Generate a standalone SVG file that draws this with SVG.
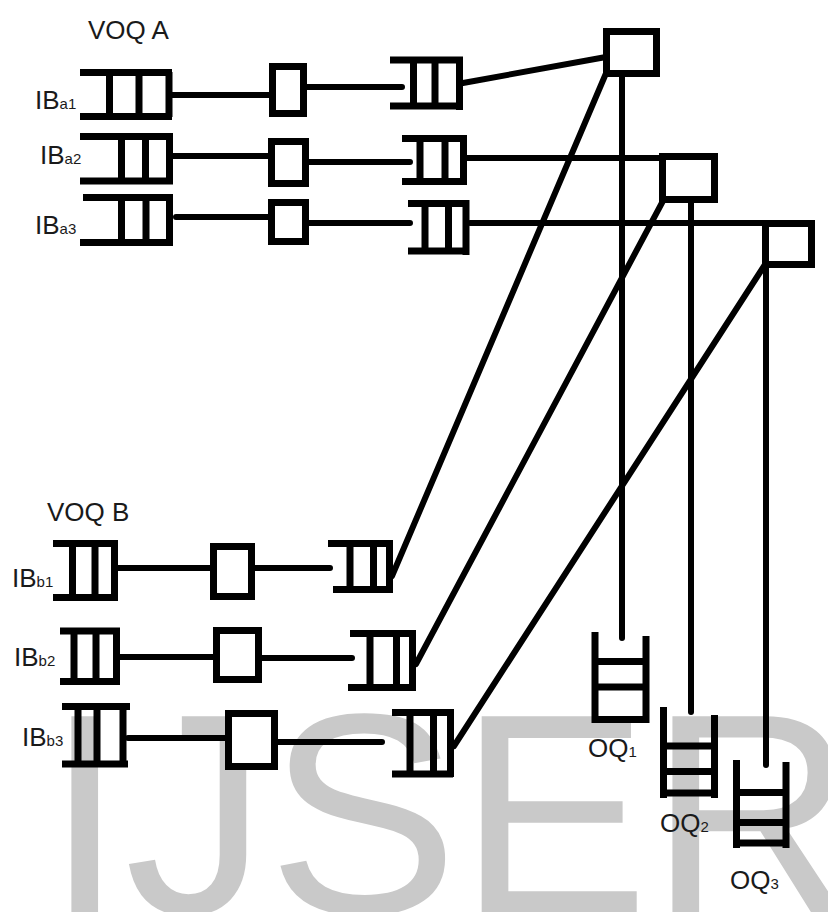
<svg xmlns="http://www.w3.org/2000/svg" width="828" height="912" viewBox="0 0 828 912">
<style>
.wm{font-family:"Liberation Sans",Arial,sans-serif;font-size:286px;fill:#c9c9c9}
.lbl{font-family:"Liberation Sans",Arial,sans-serif;font-size:26px;fill:#1a1a1a}
.sub{font-size:15px}
.q{fill:none;stroke:#000;stroke-width:7;stroke-linecap:butt}
.bx{fill:#fff;stroke:#000;stroke-width:7}
.ln{fill:none;stroke:#000;stroke-width:6;stroke-linecap:round}
</style>
<rect width="828" height="912" fill="#fff"/>
<text class="wm" x="45" y="913">IJSER</text>

<g id="connectors">
  <!-- VOQ A internal -->
  <path class="ln" d="M172 95 H269 M307 87 H402"/>
  <path class="ln" d="M173 156 H268 M309 162 H410"/>
  <path class="ln" d="M176 217 H268 M309 223 H410"/>
  <!-- VOQ B internal -->
  <path class="ln" d="M118 568 H210 M255 568 H330"/>
  <path class="ln" d="M120 657 H213 M262 658 H352"/>
  <path class="ln" d="M128 738 H225 M277 742 H382"/>
  <!-- A to switches -->
  <path class="ln" d="M463 83 L606 57"/>
  <path class="ln" d="M467 158 H662"/>
  <path class="ln" d="M470 223 H812"/>
  <!-- B to switches -->
  <path class="ln" d="M392 576 L607 71"/>
  <path class="ln" d="M416 664 L664 199"/>
  <path class="ln" d="M454 746 L766 263"/>
  <!-- switches to OQs -->
  <path class="ln" d="M622 76 V638"/>
  <path class="ln" d="M691 202 V712"/>
  <path class="ln" d="M766 267 V765"/>
</g>

<g id="voqA-label"><text class="lbl" x="88" y="39">VOQ A</text></g>
<g id="voqB-label"><text class="lbl" x="47" y="521">VOQ B</text></g>

<g id="IBa1">
  <text class="lbl" x="35" y="109" font-size="28">IB<tspan class="sub">a1</tspan></text>
  <path class="q" d="M80 72.5 H172 M80 116.5 H172 M109.5 72 V117 M139 72 V117 M169 72 V117"/>
</g>
<g id="IBa2">
  <text class="lbl" x="40" y="164" font-size="28">IB<tspan class="sub">a2</tspan></text>
  <path class="q" d="M80 136.5 H173 M80 181 H173 M121.5 136 V182 M145.5 136 V182 M169.5 136 V182"/>
</g>
<g id="IBa3">
  <text class="lbl" x="35" y="234" font-size="28">IB<tspan class="sub">a3</tspan></text>
  <path class="q" d="M83 197.5 H173 M80 242.5 H173 M121.5 197 V243 M146 197 V243 M169.5 197 V243"/>
</g>

<g id="sa1"><rect class="bx" x="272.5" y="66.5" width="31" height="47"/></g>
<g id="sa2"><rect class="bx" x="271.5" y="141.5" width="34" height="42"/></g>
<g id="sa3"><rect class="bx" x="271.5" y="202.5" width="34" height="39"/></g>

<g id="qa1"><path class="q" d="M390 60 H463 M390 106 H463 M413.5 60 V106 M435 60 V106 M459.5 57 V110"/></g>
<g id="qa2"><path class="q" d="M402 138.5 H467 M402 181.5 H467 M420 138 V182 M445 138 V182 M463.5 135 V185"/></g>
<g id="qa3"><path class="q" d="M408 203.5 H469 M408 251 H469 M425 203 V251 M448.5 203 V251 M466 200 V255"/></g>

<g id="sw1"><rect class="bx" x="606.5" y="31.5" width="50" height="42"/></g>
<g id="sw2"><rect class="bx" x="662.5" y="156.5" width="52" height="43"/></g>
<g id="sw3"><rect class="bx" x="765.5" y="223.5" width="46" height="41"/></g>

<g id="IBb1">
  <text class="lbl" x="12" y="587" font-size="28">IB<tspan class="sub">b1</tspan></text>
  <path class="q" d="M53 543.5 H118 M53 597.5 H118 M72.5 543 V598 M95 543 V598 M114.5 540 V601"/>
</g>
<g id="IBb2">
  <text class="lbl" x="14" y="666" font-size="28">IB<tspan class="sub">b2</tspan></text>
  <path class="q" d="M60 631 H120 M60 681.5 H120 M74 631 V682 M96 631 V682 M116.5 628 V685"/>
</g>
<g id="IBb3">
  <text class="lbl" x="22" y="746" font-size="28">IB<tspan class="sub">b3</tspan></text>
  <path class="q" d="M62 706.5 H130 M62 764 H128 M78 706 V767 M97 706 V767 M123 706 V767"/>
</g>

<g id="sb1"><rect class="bx" x="213.5" y="546.5" width="38" height="50"/></g>
<g id="sb2"><rect class="bx" x="216.5" y="630.5" width="42" height="49"/></g>
<g id="sb3"><rect class="bx" x="228.5" y="713.5" width="46" height="53"/></g>

<g id="qb1"><path class="q" d="M328 543.5 H392 M333 589.5 H392 M350 543 V590 M373.5 543 V590 M389.5 540 V593"/></g>
<g id="qb2"><path class="q" d="M350 633.5 H415 M348 687.5 H415 M370 633 V688 M396.5 633 V688 M412.5 630 V691"/></g>
<g id="qb3"><path class="q" d="M392 712.5 H453 M392 774 H453 M410 712 V774 M433.5 712 V774 M450.5 709 V777"/></g>

<g id="OQ1">
  <path class="q" d="M595 632 V723 M646 636 V723 M595 661.5 H646 M595 687 H646 M595 719.5 H646"/>
  <text class="lbl" x="588" y="757">OQ<tspan class="sub">1</tspan></text>
</g>
<g id="OQ2">
  <path class="q" d="M663.5 707 V798 M714.5 715 V798 M663.5 746 H714.5 M663.5 771.5 H714.5 M663.5 793 H714.5"/>
  <text class="lbl" x="660" y="832">OQ<tspan class="sub">2</tspan></text>
</g>
<g id="OQ3">
  <path class="q" d="M736.5 760 V848 M786 762 V848 M736.5 792.5 H786 M736.5 822.5 H786 M736.5 843 H786"/>
  <text class="lbl" x="730" y="889">OQ<tspan class="sub">3</tspan></text>
</g>
</svg>
